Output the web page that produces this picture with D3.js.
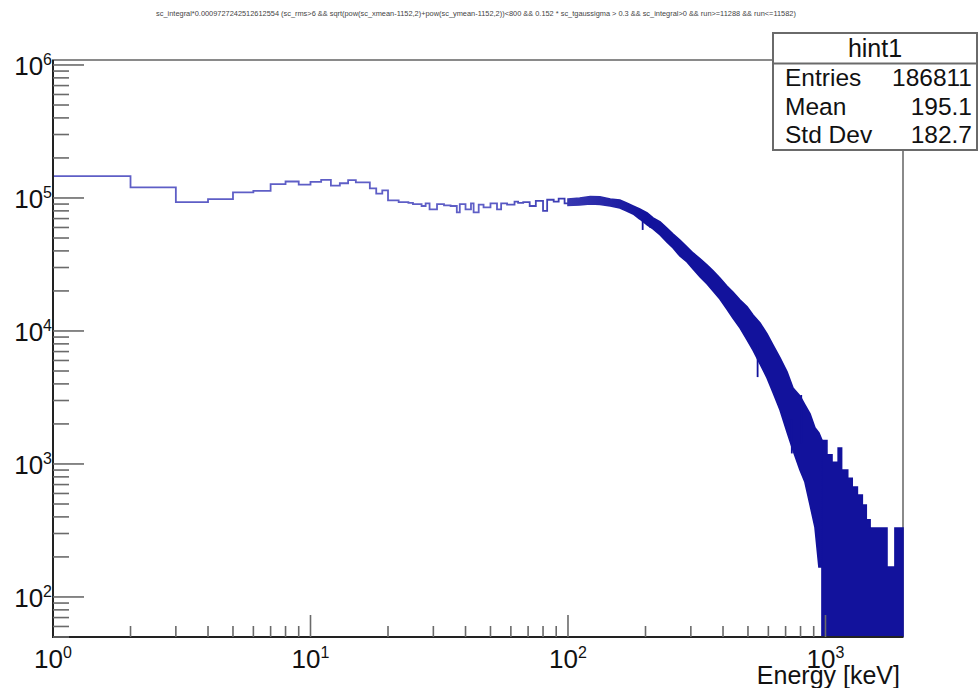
<!DOCTYPE html>
<html><head><meta charset="utf-8">
<script src="https://cdn.jsdelivr.net/npm/d3@7"></script>
<style>
body{margin:0;background:#fff}
svg{display:block;font-family:"Liberation Sans",Arial,Helvetica,sans-serif}
</style>
</head><body>
<svg id="c" width="979" height="688"></svg>
<script>
// ---------- data ----------
const titleText = "sc_integral*0.0009727242512612554 (sc_rms>6 && sqrt(pow(sc_xmean-1152,2)+pow(sc_ymean-1152,2))<800 && 0.152 * sc_tgaussigma > 0.3 && sc_integral>0 && run>=11288 && run<=11582)";
const xAxisTitle = "Energy [keV]";
const xTickExponents = ["0","1","2","3"];
const yTickExponents = ["2","3","4","5","6"];

// low-energy bins (step line), edges in keV
const binEdges = [1,2,3,4,5,6,7,8,9,10,11,12,13,14,15,16,17,18,19,20,21,22,23,24,25,26,27,28,
  29,31,33,35,37,38,40,42,43,45,47,50,53,55,58,62,64,67,71,75,80,83,88,92,97,100];
const binValues = [1.46e5,1.20e5,9.3e4,9.8e4,1.10e5,1.13e5,1.27e5,1.33e5,1.26e5,1.32e5,
  1.37e5,1.24e5,1.29e5,1.36e5,1.31e5,1.31e5,1.18e5,1.08e5,1.14e5,9.6e4,
  9.6e4,9.3e4,9.3e4,9.2e4,9.0e4,9.0e4,8.7e4,
  9.1e4,8.2e4,9.0e4,8.8e4,8.7e4,7.8e4,9.0e4,8.2e4,9.1e4,7.8e4,8.9e4,8.5e4,9.1e4,8.2e4,
  9.1e4,8.9e4,9.4e4,9.2e4,9.3e4,8.7e4,9.5e4,8.0e4,9.7e4,9.4e4,9.9e4,9.1e4];

// dense region: envelope (max / min of the fine 1-keV bins) at sample energies
const envE = [100,111,122,133,146,159,169,179,190,203,214,228,242,256,272,290,306,326,347,366,
  389,414,437,466,496,523,557,593,625,666,709,748,796,832,871,910,943,969];
const envHi = [9.83e4,1.0e5,1.026e5,1.02e5,9.83e4,9.66e4,9.17e4,8.71e4,8.27e4,7.71e4,
  7.08e4,6.61e4,5.94e4,5.36e4,4.83e4,4.28e4,3.86e4,3.48e4,3.13e4,2.83e4,
  2.5e4,2.18e4,1.96e4,1.71e4,1.52e4,1.32e4,1.15e4,9.49e3,7.85e3,6.27e3,
  4.92e3,3.73e3,3.25e3,2.78e3,2.38e3,1.87e3,1.71e3,1.51e3];
const envLo = [8.78e4,8.86e4,9.01e4,8.94e4,8.71e4,8.41e4,7.99e4,7.58e4,6.95e4,6.27e4,
  5.85e4,5.27e4,4.67e4,4.21e4,3.66e4,3.3e4,2.93e4,2.55e4,2.26e4,2.0e4,
  1.74e4,1.46e4,1.25e4,1.05e4,8.56e3,7.19e3,5.65e3,4.44e3,3.47e3,2.55e3,
  1.74e3,1.27e3,901,732,492,336,168,168];

// single bins that stick out of the envelope
const spikeE = [195, 208, 545, 740, 805];
const spikeV = [5.75e4, 6.0e4, 4.5e3, 1.2e3, 3.3e3];

// tail: groups of bins reaching from empty (0) bins up to this maximum
const tailEdges = [969,1013,1060,1120,1155,1220,1270,1330,1390,1440,1490,1733,1861,2000];
const tailHi = [1.5e3,1.17e3,1.03e3,1.32e3,900,780,672,585,492,380,330,168,330];

const statsTitle = "hint1";
const statsNames = ["Entries","Mean","Std Dev"];
const statsValues = ["186811","195.1","182.7"];

// ---------- layout ----------
const L = 53, R = 903, T = 60, B = 637;
const xMin = 1, xMax = 2000, yMin = 50, yMax = 1.09e6;
const svg = d3.select("#c");
const x = d3.scaleLog().domain([xMin, xMax]).range([L, R]);
const y = d3.scaleLog().domain([yMin, yMax]).range([B, T]);
const yv = v => y(Math.max(v, yMin));

// title
svg.append("text").attr("x", 476).attr("y", 16).attr("text-anchor", "middle")
  .attr("font-size", 7.4).attr("fill", "#444").text(titleText);

// frame
svg.append("rect").attr("x", L).attr("y", T).attr("width", R - L).attr("height", B - T)
  .attr("fill", "none").attr("stroke", "#8a8a8a").attr("stroke-width", 2);

const defs = svg.append("defs");
defs.append("clipPath").attr("id", "clip").append("rect")
  .attr("x", L).attr("y", T - 1).attr("width", R - L + 1).attr("height", B - T + 1);
const grad = defs.append("linearGradient").attr("id", "hg")
  .attr("gradientUnits", "userSpaceOnUse")
  .attr("x1", x(50)).attr("x2", x(200)).attr("y1", 0).attr("y2", 0);
grad.append("stop").attr("offset", 0).attr("stop-color", "#5e5ec6");
grad.append("stop").attr("offset", 1).attr("stop-color", "#12129c");

const gData = svg.append("g").attr("clip-path", "url(#clip)");

// step line for resolved bins
const binPts = binValues.map((v, i) => ({e: binEdges[i], v}));
binPts.push({e: binEdges[binEdges.length - 1], v: binValues[binValues.length - 1]});
gData.append("path").datum(binPts)
  .attr("d", d3.line().curve(d3.curveStepAfter).x(d => x(d.e)).y(d => yv(d.v)))
  .attr("fill", "none").attr("stroke", "url(#hg)").attr("stroke-width", 1.8);

// envelope band for the dense region
const envPts = envE.map((e, i) => ({e, hi: envHi[i], lo: envLo[i]}));
gData.append("path").datum(envPts)
  .attr("d", d3.area().x(d => x(d.e)).y0(d => yv(d.lo)).y1(d => yv(d.hi)))
  .attr("fill", "url(#hg)").attr("stroke", "url(#hg)").attr("stroke-width", 1.6);

// spikes: vertical strokes from the band to the single-bin value
spikeE.forEach((e, i) => {
  const k = Math.min(d3.bisectLeft(envE, e), envE.length - 1);
  const mid = Math.sqrt(envHi[k] * envLo[k]);
  gData.append("line").attr("x1", x(e)).attr("x2", x(e))
    .attr("y1", yv(mid)).attr("y2", yv(spikeV[i]))
    .attr("stroke", "#12129c").attr("stroke-width", 1.8);
});

// tail groups
const tailPts = tailHi.map((v, i) => ({e: tailEdges[i], hi: v, lo: 0}));
tailPts.push({e: tailEdges[tailEdges.length - 1], hi: tailHi[tailHi.length - 1], lo: 0});
gData.append("path").datum(tailPts)
  .attr("d", d3.area().curve(d3.curveStepAfter).x(d => x(d.e)).y0(d => yv(d.lo)).y1(d => yv(d.hi)))
  .attr("fill", "#12129c").attr("stroke", "#12129c").attr("stroke-width", 1.6);

// axes lines
svg.append("line").attr("x1", L).attr("x2", L).attr("y1", T).attr("y2", B + 1)
  .attr("stroke", "#222").attr("stroke-width", 2);
svg.append("line").attr("x1", L - 1).attr("x2", R).attr("y1", B).attr("y2", B)
  .attr("stroke", "#222").attr("stroke-width", 2);

// ticks
const isMajor = v => Math.abs(Math.log10(v) - Math.round(Math.log10(v))) < 1e-9;
const tickCol = "#6a6a6a";
x.ticks().filter(v => v > xMin && v < xMax).forEach(v => {
  const len = isMajor(v) ? 22 : 11;
  svg.append("line").attr("x1", x(v)).attr("x2", x(v)).attr("y1", B).attr("y2", B - len)
    .attr("stroke", tickCol).attr("stroke-width", 1.6);
});
y.ticks().filter(v => v >= yMin && v <= yMax).forEach(v => {
  const len = isMajor(v) ? 31 : 16;
  svg.append("line").attr("x1", L).attr("x2", L + len).attr("y1", y(v)).attr("y2", y(v))
    .attr("stroke", tickCol).attr("stroke-width", 1.6);
});

// tick labels
xTickExponents.forEach(p => {
  const t = svg.append("text").attr("x", x(Math.pow(10, +p))).attr("y", 668)
    .attr("text-anchor", "middle").attr("font-size", 26).attr("fill", "#111");
  t.append("tspan").text("10");
  t.append("tspan").attr("font-size", 16).attr("dy", -10).text(p);
});
yTickExponents.forEach(p => {
  const t = svg.append("text").attr("x", 52).attr("y", y(Math.pow(10, +p)) + 10)
    .attr("text-anchor", "end").attr("font-size", 26).attr("fill", "#111");
  t.append("tspan").text("10");
  t.append("tspan").attr("font-size", 16).attr("dy", -10).text(p);
});

// axis title
svg.append("text").attr("x", 900).attr("y", 684).attr("text-anchor", "end")
  .attr("font-size", 25).attr("fill", "#111").text(xAxisTitle);

// stats box
const sb = svg.append("g");
sb.append("rect").attr("x", 773).attr("y", 33).attr("width", 204).attr("height", 117)
  .attr("fill", "#fff").attr("stroke", "#6a6a6a").attr("stroke-width", 2);
sb.append("line").attr("x1", 773).attr("x2", 977).attr("y1", 63.5).attr("y2", 63.5)
  .attr("stroke", "#6a6a6a").attr("stroke-width", 2);
sb.append("text").attr("x", 875).attr("y", 57).attr("text-anchor", "middle")
  .attr("font-size", 25).attr("fill", "#111").text(statsTitle);
statsNames.forEach((n, i) => {
  const yy = 86 + i * 28.5;
  sb.append("text").attr("x", 785).attr("y", yy).attr("font-size", 24.5).attr("fill", "#111").text(n);
  sb.append("text").attr("x", 972).attr("y", yy).attr("text-anchor", "end")
    .attr("font-size", 24.5).attr("fill", "#111").text(statsValues[i]);
});
</script>
</body></html>
